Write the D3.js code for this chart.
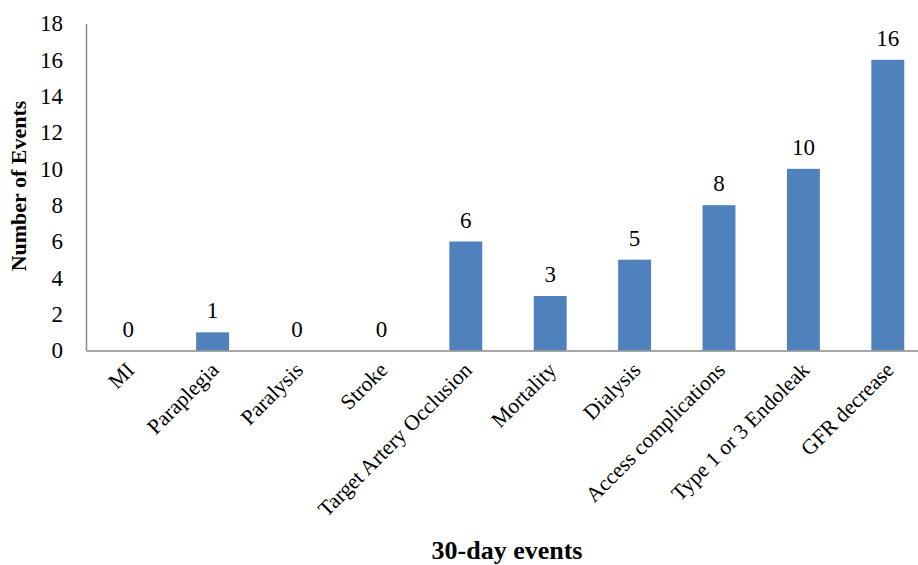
<!DOCTYPE html>
<html><head><meta charset="utf-8">
<script src="https://cdn.jsdelivr.net/npm/d3@7"></script>
<style>body{margin:0;background:#fff}svg{display:block}</style>
</head><body>
<svg id="c" width="918" height="565"></svg>
<script>
const categories = ["MI","Paraplegia","Paralysis","Stroke","Target Artery Occlusion","Mortality","Dialysis","Access complications","Type 1 or 3 Endoleak","GFR decrease"];
const values = [0,1,0,0,6,3,5,8,10,16];
const yTicks = [0,2,4,6,8,10,12,14,16,18];

const svg = d3.select("#c");
const font = "'Liberation Serif','Times New Roman',serif";
const x = d3.scaleBand().domain(categories).range([86, 930]).paddingInner(0.61).paddingOuter(0.305);
const y = d3.scaleLinear().domain([0, 18]).range([350.5, 23.5]);

// bars
svg.append("g").selectAll("rect").data(values).join("rect")
  .attr("x", (d,i) => x(categories[i]))
  .attr("width", x.bandwidth())
  .attr("y", d => y(d))
  .attr("height", d => y(0) - y(d))
  .attr("fill", "#4F81BD");

// axes
const yAxis = svg.append("g").attr("transform","translate(86,0)")
  .call(d3.axisLeft(y).tickValues(yTicks).tickSize(0).tickPadding(23));
yAxis.attr("font-family",font).attr("font-size",23);
yAxis.select(".domain").attr("stroke","#898989").attr("stroke-width",1.5);
yAxis.selectAll("text").attr("fill","#000");

const xAxis = svg.append("g").attr("transform","translate(0,350.5)")
  .call(d3.axisBottom(x).tickSize(0).tickFormat(""));
xAxis.select(".domain").attr("stroke","#898989").attr("stroke-width",1.5);

// x labels rotated
svg.append("g").selectAll("text").data(categories).join("text")
  .attr("transform", d => `translate(${x(d)+x.bandwidth()/2+2},${366}) rotate(-45)`)
  .attr("text-anchor","end")
  .attr("dy","0.35em")
  .attr("font-family",font).attr("font-size",21.5).attr("fill","#000")
  .text(d => d);

// value labels
svg.append("g").selectAll("text").data(values).join("text")
  .attr("x", (d,i) => x(categories[i]) + x.bandwidth()/2)
  .attr("y", d => y(d) - 14)
  .attr("text-anchor","middle")
  .attr("font-family",font).attr("font-size",23).attr("fill","#000")
  .text(d => d);

// titles
svg.append("text")
  .attr("transform","translate(26,186) rotate(-90)")
  .attr("text-anchor","middle")
  .attr("font-family",font).attr("font-size",22).attr("font-weight","bold")
  .text("Number of Events");
svg.append("text")
  .attr("x",507).attr("y",559)
  .attr("text-anchor","middle")
  .attr("font-family",font).attr("font-size",26).attr("font-weight","bold")
  .text("30-day events");
</script>
</body></html>
